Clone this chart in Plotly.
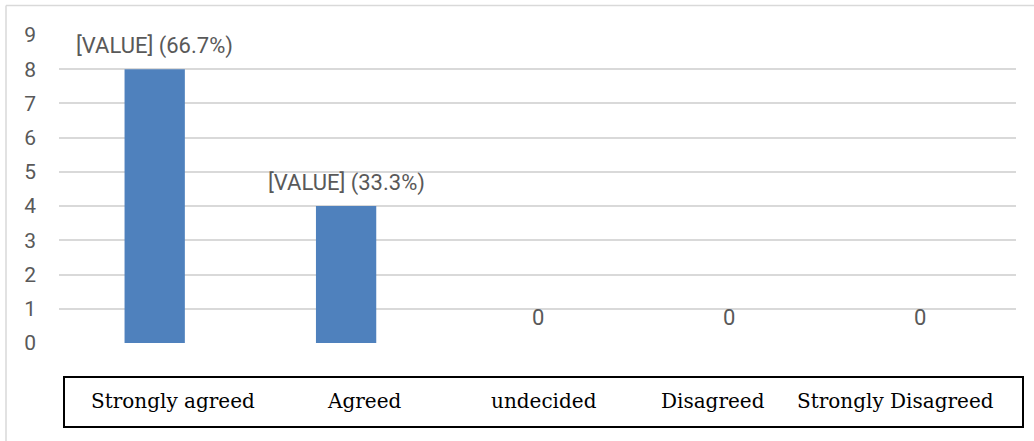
import plotly.graph_objects as go

categories = ["Strongly agreed", "Agreed", "undecided", "Disagreed", "Strongly Disagreed"]
counts = [8, 4, 0, 0, 0]
data_labels = ["[VALUE] (66.7%)", "[VALUE] (33.3%)", "0", "0", "0"]
y_ticks = [0, 1, 2, 3, 4, 5, 6, 7, 8, 9]

W, H = 1034, 441
L, R, T, B = 59, 18, 35, 98

fig = go.Figure()
fig.add_trace(go.Bar(x=categories, y=counts, marker_color="#4f81bd",
                     marker_line_width=0, width=0.315, hoverinfo="x+y"))

label_font = dict(family="Roboto, sans-serif", size=22, color="#595959")
for c, v, t in zip(categories, counts, data_labels):
    fig.add_annotation(x=c, y=v, text=t, showarrow=False, xref="x", yref="y",
                       yanchor="bottom", yshift=8 if v > 0 else 11, font=label_font)

# category "table" labels below the plot
cat_shift = [18, 18, 6, -16, -25]
for c, s in zip(categories, cat_shift):
    fig.add_annotation(x=c, y=0, xref="x", yref="y", yshift=-58, xshift=s,
                       text=c, showarrow=False,
                       font=dict(family="DejaVu Serif, serif", size=20, color="#000000"))

def px2paper_x(px):
    return (px - L) / (W - L - R)

def px2paper_y(py):
    return (H - B - py) / (H - T - B)

# table box
fig.add_shape(type="rect", xref="paper", yref="paper",
              x0=px2paper_x(64), x1=px2paper_x(1023),
              y0=px2paper_y(427), y1=px2paper_y(377),
              line=dict(color="#000000", width=2), layer="above")
# outer chart border (left and top visible)
fig.add_shape(type="line", xref="paper", yref="paper",
              x0=px2paper_x(6), x1=px2paper_x(6), y0=px2paper_y(441), y1=px2paper_y(5.5),
              line=dict(color="#d9d9d9", width=1.5))
fig.add_shape(type="line", xref="paper", yref="paper",
              x0=px2paper_x(6), x1=px2paper_x(1040), y0=px2paper_y(5.5), y1=px2paper_y(5.5),
              line=dict(color="#d9d9d9", width=1.5))

fig.update_layout(
    width=W, height=H,
    margin=dict(l=L, r=R, t=T, b=B, pad=0),
    paper_bgcolor="white", plot_bgcolor="white",
    showlegend=False,
    bargap=0.686,
    xaxis=dict(showticklabels=False, showgrid=False, zeroline=False, showline=False,
               ticks=""),
    yaxis=dict(range=[0, 9], tickvals=y_ticks, showgrid=True, gridcolor="#d9d9d9",
               gridwidth=1.5, zeroline=False, showline=False, ticks="",
               tickfont=dict(family="Roboto, sans-serif", size=21, color="#595959"),
               ticklabelstandoff=22),
)

fig.write_html("out.html")
